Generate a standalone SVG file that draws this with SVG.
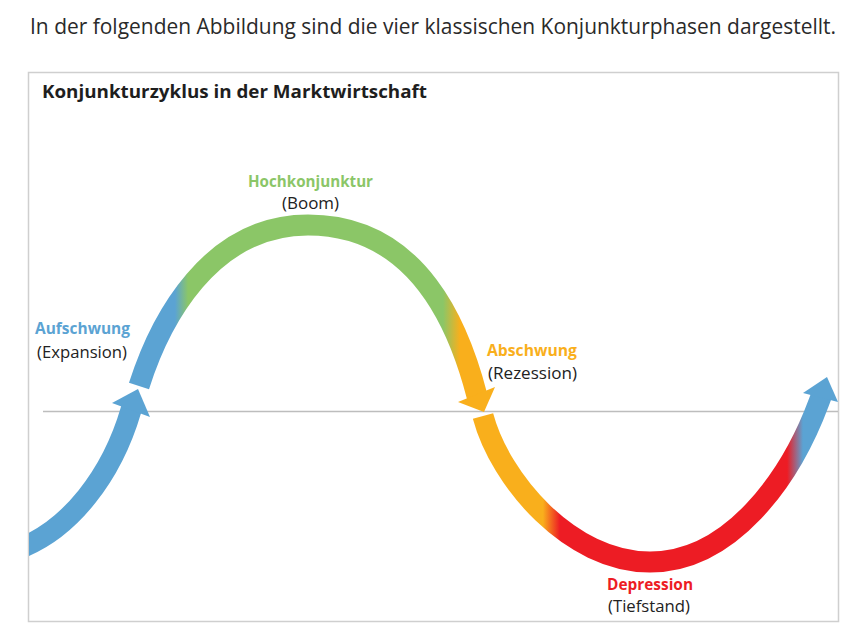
<svg xmlns="http://www.w3.org/2000/svg" width="857" height="640" viewBox="0 0 857 640">
  <style>
    .intro { font-family: "Open Sans", "Noto Sans", "Liberation Sans", sans-serif; font-size: 21px; fill: #2a2a2a; }
    .title { font-family: "Open Sans", "Noto Sans", "Liberation Sans", sans-serif; font-size: 18px; font-weight: 700; fill: #1e1e1e; }
    .lbl { font-family: "Open Sans", "Noto Sans", "Liberation Sans", sans-serif; font-size: 15.5px; font-weight: 700; text-anchor: middle; }
    .sub { font-family: "Open Sans", "Noto Sans", "Liberation Sans", sans-serif; font-size: 15.5px; fill: #222; text-anchor: middle; }
    .band { fill: none; stroke-width: 21; stroke-linecap: butt; }
  </style>
  <defs>
    <linearGradient id="g2" gradientUnits="userSpaceOnUse" x1="130" y1="0" x2="500" y2="0">
      <stop offset="0" stop-color="#5ba3d3"/>
      <stop offset="0.1216" stop-color="#5ba3d3"/>
      <stop offset="0.157" stop-color="#8bc667"/>
      <stop offset="0.846" stop-color="#8bc667"/>
      <stop offset="0.892" stop-color="#f9af1c"/>
      <stop offset="1" stop-color="#f9af1c"/>
    </linearGradient>
    <linearGradient id="g3" gradientUnits="userSpaceOnUse" x1="470" y1="0" x2="840" y2="0">
      <stop offset="0" stop-color="#f9af1c"/>
      <stop offset="0.197" stop-color="#f9af1c"/>
      <stop offset="0.243" stop-color="#ed1c24"/>
      <stop offset="0.857" stop-color="#ed1c24"/>
      <stop offset="0.9" stop-color="#5ba3d3"/>
      <stop offset="1" stop-color="#5ba3d3"/>
    </linearGradient>
    <clipPath id="frameClip">
      <rect x="29" y="73" width="812" height="548"/>
    </clipPath>
  </defs>

  <text class="intro" x="30" y="34" textLength="806" lengthAdjust="spacingAndGlyphs">In der folgenden Abbildung sind die vier klassischen Konjunkturphasen dargestellt.</text>

  <rect x="28.5" y="72.5" width="810" height="549" fill="#fff" stroke="#cfcfcf" stroke-width="1.5"/>
  <text class="title" x="42" y="98" textLength="385" lengthAdjust="spacingAndGlyphs">Konjunkturzyklus in der Marktwirtschaft</text>

  <line id="axis" x1="43" y1="411.5" x2="838" y2="411.5" stroke="#bdbdbd" stroke-width="1.5"/>

  <g id="connectors">
    <g id="seg-aufschwung" clip-path="url(#frameClip)">
      <path class="band" stroke="#5ba3d3" d="M 18 549 C 70 530, 112 475, 131 410 L 132 406"/>
      <polygon fill="#5ba3d3" points="112,403 150,417 138,389"/>
    </g>
    <g id="seg-boom">
      <path class="band" stroke="url(#g2)" d="M 139 386 C 160 320, 210 225, 308 225 C 420 225, 460 330, 477 396 L 478 399"/>
      <polygon fill="#f9af1c" points="458,402 495,387 484,412"/>
    </g>
    <g id="seg-depression">
      <path class="band" stroke="url(#g3)" d="M 483 416 C 500 480, 570 562, 650 562 C 730 562, 790 480, 819 402 L 822 394"/>
      <polygon fill="#5ba3d3" points="803,393 838,402 827,377"/>
    </g>
  </g>

  <g id="node-aufschwung">
    <text class="lbl" x="82.5" y="334" fill="#5ba3d3" textLength="95" lengthAdjust="spacingAndGlyphs">Aufschwung</text>
    <text class="sub" x="82" y="358" textLength="90" lengthAdjust="spacingAndGlyphs">(Expansion)</text>
  </g>
  <g id="node-hochkonjunktur">
    <text class="lbl" x="310.5" y="187" fill="#8bc667" textLength="125" lengthAdjust="spacingAndGlyphs">Hochkonjunktur</text>
    <text class="sub" x="310.5" y="209" textLength="57" lengthAdjust="spacingAndGlyphs">(Boom)</text>
  </g>
  <g id="node-abschwung">
    <text class="lbl" x="532" y="356" fill="#f9af1c" textLength="90" lengthAdjust="spacingAndGlyphs">Abschwung</text>
    <text class="sub" x="532.5" y="379" textLength="89" lengthAdjust="spacingAndGlyphs">(Rezession)</text>
  </g>
  <g id="node-depression">
    <text class="lbl" x="650" y="590" fill="#ed1c24" textLength="86" lengthAdjust="spacingAndGlyphs">Depression</text>
    <text class="sub" x="649" y="612" textLength="82" lengthAdjust="spacingAndGlyphs">(Tiefstand)</text>
  </g>
</svg>
